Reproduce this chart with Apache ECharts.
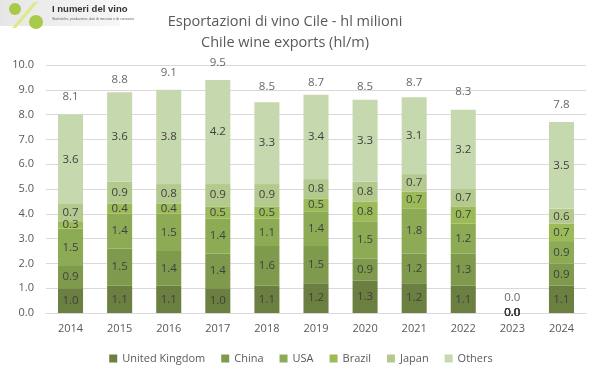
<!DOCTYPE html>
<html>
<head>
<meta charset="utf-8">
<script src="https://cdn.jsdelivr.net/npm/echarts@6/dist/echarts.min.js"></script>
<style>html,body{margin:0;padding:0;background:#fff}#c{width:602px;height:378px}</style>
</head>
<body>
<div id="c"></div>
<script>
const years = ['2014','2015','2016','2017','2018','2019','2020','2021','2022','2023','2024'];
const unitedKingdom = [1.0,1.1,1.1,1.0,1.1,1.2,1.3,1.2,1.1,0.0,1.1];
const china         = [0.9,1.5,1.4,1.4,1.6,1.5,0.9,1.2,1.3,0.0,0.9];
const usa           = [1.5,1.4,1.5,1.4,1.1,1.4,1.5,1.8,1.2,0.0,0.9];
const brazil        = [0.3,0.4,0.4,0.5,0.5,0.5,0.8,0.7,0.7,0.0,0.7];
const japan         = [0.7,0.9,0.8,0.9,0.9,0.8,0.8,0.7,0.7,0.0,0.6];
const others        = [3.6,3.6,3.8,4.2,3.3,3.4,3.3,3.1,3.2,0.0,3.5];
const totals        = [8.1,8.8,9.1,9.5,8.5,8.7,8.5,8.7,8.3,0.0,7.8];
const seriesNames = ['United Kingdom','China','USA','Brazil','Japan','Others'];
const seriesData = [unitedKingdom, china, usa, brazil, japan, others];
const colors = ['#6a7f40','#7f9a4c','#8dab55','#9bbb59','#b4c98e','#c6d8ae'];

const FONT = 'Open Sans';
const chart = echarts.init(document.getElementById('c'));
const barSeries = seriesNames.map((n,i)=>({
  name:n, type:'bar', stack:'s', barWidth:'51%', data:seriesData[i],
  itemStyle:{color:colors[i]},
  label:{show:true, position:'inside', color:'#404040', fontSize:11.5, fontFamily:FONT,
    formatter:p=>p.value.toFixed(1)}
}));
barSeries.push({
  name:'Total', type:'scatter', data:totals, symbolSize:2, itemStyle:{color:'rgba(0,0,0,0)'},
  silent:true, z:10,
  label:{show:true, position:'top', distance:8, color:'#404040', fontSize:11.5, fontFamily:FONT,
    formatter:p=>p.value.toFixed(1)}
});
chart.setOption({
  animation:false,
  textStyle:{fontFamily:FONT},
  title:{text:'Esportazioni di vino Cile - hl milioni\nChile wine exports (hl/m)', left:280, textAlign:'center', top:6,
    textStyle:{fontSize:14.5, fontWeight:'normal', color:'#595959', lineHeight:21, fontFamily:FONT}},
  legend:{data:seriesNames, bottom:9, left:'center', icon:'rect', itemWidth:8, itemHeight:8, itemGap:16,
    textStyle:{color:'#595959', fontSize:11, fontFamily:FONT}},
  grid:{left:46, right:16, top:65, bottom:65},
  xAxis:{type:'category', data:years, axisTick:{show:false},
    axisLine:{lineStyle:{color:'#d9d9d9'}},
    axisLabel:{color:'#595959', fontSize:11, margin:10}},
  yAxis:{type:'value', min:0, max:10, interval:1,
    axisLabel:{color:'#595959', fontSize:11, formatter:v=>v.toFixed(1), margin:12},
    splitLine:{lineStyle:{color:'#d9d9d9'}}},
  series:barSeries,
  graphic:[
    {type:'rect', shape:{x:0,y:0,width:120,height:26}, style:{fill:{type:'linear',x:0,y:0,x2:1,y2:0,colorStops:[{offset:0,color:'#e6e6e6'},{offset:1,color:'#f7f7f7'}]}}},
    {type:'circle', shape:{cx:15,cy:9,r:6}, style:{fill:'#a9c94a'}},
    {type:'circle', shape:{cx:36,cy:22,r:7}, style:{fill:'#a9c94a'}},
    {type:'polygon', shape:{points:[[34,2],[38,2],[16,28],[12,28]]}, style:{fill:'#dfe88a'}},
    {type:'text', left:52, top:4, style:{text:'I numeri del vino', fontSize:9.5, fontWeight:'bold', fill:'#333', fontFamily:'Liberation Sans'}},
    {type:'text', left:52, top:17, style:{text:'Statistiche, produzione, dati di mercato e di consumo', fontSize:3.5, fill:'#666'}}
  ]
});
</script>
</body>
</html>
